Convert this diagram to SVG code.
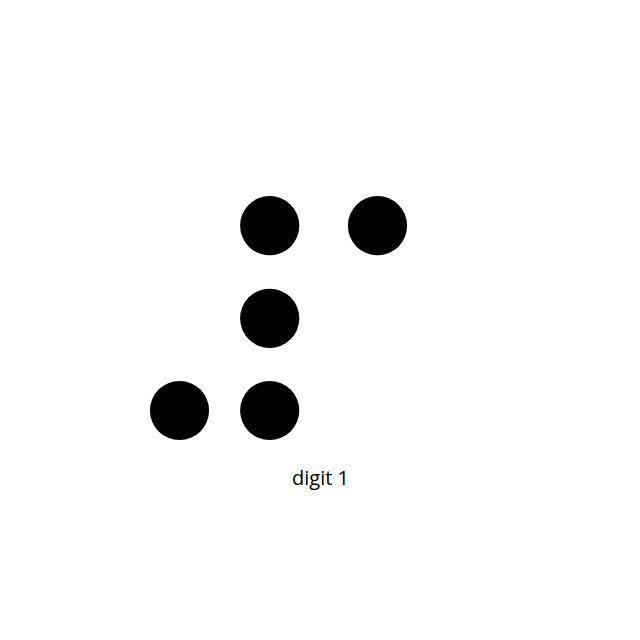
<svg xmlns="http://www.w3.org/2000/svg" width="640" height="640" viewBox="0 0 640 640">
<style>
.dot{fill:#000}
.lbl{font-family:"Open Sans","Noto Sans",sans-serif;font-size:20px;fill:#000}
</style>
<rect width="640" height="640" fill="#fff"/>
<g id="dot1"><circle class="dot" cx="269.7" cy="225.7" r="29.6"/></g>
<g id="dot4"><circle class="dot" cx="377.5" cy="225.7" r="29.6"/></g>
<g id="dot2"><circle class="dot" cx="269.7" cy="318.3" r="29.6"/></g>
<g id="dot3"><circle class="dot" cx="179.5" cy="410.5" r="29.6"/></g>
<g id="dot5"><circle class="dot" cx="269.7" cy="410.5" r="29.6"/></g>
<g id="connectors"></g>
<text class="lbl" x="320.5" y="485" text-anchor="middle">digit 1</text>
</svg>
